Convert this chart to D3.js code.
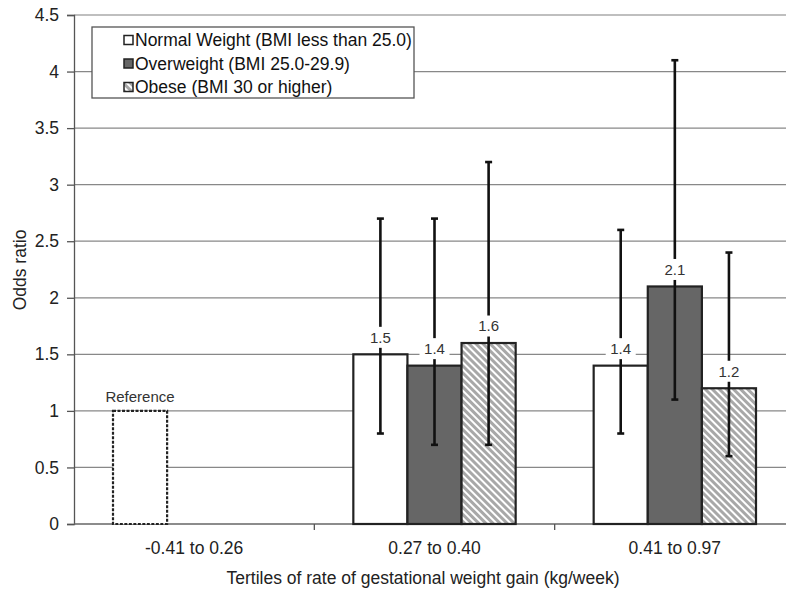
<!DOCTYPE html>
<html><head><meta charset="utf-8">
<script src="https://cdn.jsdelivr.net/npm/d3@7"></script>
<style>body{margin:0;background:#fff}svg{display:block;font-family:"Liberation Sans",Arial,sans-serif}</style>
</head><body><svg id="c" width="786" height="591"></svg>
<script>
const categories = ["-0.41 to 0.26", "0.27 to 0.40", "0.41 to 0.97"];
const seriesNames = ["Normal Weight (BMI less than 25.0)", "Overweight (BMI 25.0-29.9)", "Obese (BMI 30 or higher)"];
const normalOR = [1.0, 1.5, 1.4];
const overweightOR = [null, 1.4, 2.1];
const obeseOR = [null, 1.6, 1.2];
const normalLow = [null, 0.8, 0.8];
const normalHigh = [null, 2.7, 2.6];
const overweightLow = [null, 0.7, 1.1];
const overweightHigh = [null, 2.7, 4.1];
const obeseLow = [null, 0.7, 0.6];
const obeseHigh = [null, 3.2, 2.4];
const yTicks = [0, 0.5, 1, 1.5, 2, 2.5, 3, 3.5, 4, 4.5];
const referenceLabel = "Reference";
const yTitle = "Odds ratio";
const xTitle = "Tertiles of rate of gestational weight gain (kg/week)";

const FS = 17.5;
const svg = d3.select("#c");
const defs = svg.append("defs");
const pat = defs.append("pattern").attr("id","hatch").attr("patternUnits","userSpaceOnUse")
  .attr("width",5).attr("height",5).attr("patternTransform","rotate(45)");
pat.append("rect").attr("width",5).attr("height",5).attr("fill","#fff");
pat.append("rect").attr("width",5).attr("height",3).attr("fill","#a8a8a8");

const pLeft = 74, pRight = 795, pTop = 15, pBottom = 524;
const x = d3.scaleBand().domain(categories).range([pLeft, pRight]);
const y = d3.scaleLinear().domain([0, 4.5]).range([pBottom, pTop]);
const groupPad = 39;
const keys = ["n","o","b"];
const xs = d3.scaleBand().domain(keys).range([0, x.bandwidth() - 2*groupPad]);

const fills = {n:"#ffffff", o:"#666666", b:"url(#hatch)"};
const series = [
  {k:"n", v:normalOR, lo:normalLow, hi:normalHigh},
  {k:"o", v:overweightOR, lo:overweightLow, hi:overweightHigh},
  {k:"b", v:obeseOR, lo:obeseLow, hi:obeseHigh}
];

// gridlines
svg.append("g").selectAll("line").data(yTicks.filter(d=>d>0)).join("line")
  .attr("x1", pLeft).attr("x2", pRight).attr("y1", d=>y(d)).attr("y2", d=>y(d))
  .attr("stroke", (d)=> d===4.5 ? "#aaa" : "#888").attr("stroke-width", 1.3);

// y axis
const ya = svg.append("g").attr("transform", `translate(${pLeft},0)`)
  .call(d3.axisLeft(y).tickValues(yTicks).tickFormat(d3.format("")).tickSize(7).tickPadding(8));
ya.select(".domain").attr("stroke","#555").attr("stroke-width",1.3);
ya.selectAll(".tick line").attr("stroke","#555").attr("stroke-width",1.3);
ya.selectAll("text").attr("font-size",FS).attr("fill","#222").attr("font-family","Liberation Sans, Arial, sans-serif");

// x axis
const xa = svg.append("g").attr("transform", `translate(0,${pBottom})`)
  .call(d3.axisBottom(x).tickSize(0).tickPadding(18));
xa.select(".domain").remove();
xa.selectAll("text").attr("font-size",FS).attr("fill","#222").attr("font-family","Liberation Sans, Arial, sans-serif");
svg.append("line").attr("x1",pLeft).attr("x2",pRight).attr("y1",pBottom).attr("y2",pBottom)
  .attr("stroke","#666").attr("stroke-width",1.3);
svg.append("g").selectAll("line").data(categories.slice(1)).join("line")
  .attr("x1", d=>x(d)).attr("x2", d=>x(d)).attr("y1", pBottom).attr("y2", pBottom+6)
  .attr("stroke","#555").attr("stroke-width",1.3);

// bars
const barData = [];
series.forEach(s => categories.forEach((c,i) => {
  if (s.v[i] != null) barData.push({k:s.k, c, i, v:s.v[i], lo:s.lo[i], hi:s.hi[i]});
}));
const bx = d => x(d.c) + groupPad + xs(d.k);
svg.append("g").selectAll("rect").data(barData).join("rect")
  .attr("x", bx).attr("width", xs.bandwidth())
  .attr("y", d=>y(d.v)).attr("height", d=>y(0)-y(d.v))
  .attr("fill", d=>fills[d.k]).attr("stroke","#222").attr("stroke-width",2.2)
  .attr("stroke-dasharray", d=> d.lo==null ? "3,1.5" : null);

// error bars
const eb = barData.filter(d=>d.lo!=null);
const eg = svg.append("g").attr("stroke","#111").attr("stroke-width",2.6);
eg.selectAll(".v").data(eb).join("line").attr("class","v")
  .attr("x1", d=>bx(d)+xs.bandwidth()/2).attr("x2", d=>bx(d)+xs.bandwidth()/2)
  .attr("y1", d=>y(d.lo)).attr("y2", d=>y(d.hi));
["lo","hi"].forEach(f => {
  eg.selectAll("."+f).data(eb).join("line").attr("class",f)
    .attr("x1", d=>bx(d)+xs.bandwidth()/2-3.5).attr("x2", d=>bx(d)+xs.bandwidth()/2+3.5)
    .attr("y1", d=>y(d[f])).attr("y2", d=>y(d[f]));
});

// value labels
const lg = svg.append("g");
barData.forEach(d => {
  const cx = bx(d)+xs.bandwidth()/2;
  const cy = y(d.v) - 17;
  const txt = d.lo==null ? referenceLabel : d3.format(".1f")(d.v);
  if (d.lo!=null) {
    lg.append("rect").attr("x", cx-15).attr("y", cy-10.5).attr("width",30).attr("height",21).attr("fill","#fff");
  }
  lg.append("text").attr("x", cx).attr("y", d.lo==null ? cy+3 : cy).attr("dy","0.35em")
    .attr("text-anchor","middle").attr("font-size",15).attr("fill","#333").text(txt);
});

// legend
const leg = svg.append("g");
leg.append("rect").attr("x",92).attr("y",27).attr("width",322).attr("height",71)
  .attr("fill","#fff").attr("stroke","#555").attr("stroke-width",1.3);
const legFills = [fills.n, fills.o, fills.b];
seriesNames.forEach((n,i) => {
  const cy = 40 + i*23.5;
  leg.append("rect").attr("x",124).attr("y",cy-4.5).attr("width",9).attr("height",9)
    .attr("fill", legFills[i]).attr("stroke","#222").attr("stroke-width",1.5);
  leg.append("text").attr("x",135).attr("y",cy).attr("dy","0.35em").attr("font-size",FS)
    .attr("fill","#111").text(n);
});

// titles
svg.append("text").attr("transform","translate(20,270) rotate(-90)").attr("text-anchor","middle")
  .attr("dy","0.35em").attr("font-size",FS).attr("fill","#222").text(yTitle);
svg.append("text").attr("x",423).attr("y",578).attr("dy","0.35em").attr("text-anchor","middle")
  .attr("font-size",FS).attr("fill","#222").text(xTitle);
</script></body></html>
